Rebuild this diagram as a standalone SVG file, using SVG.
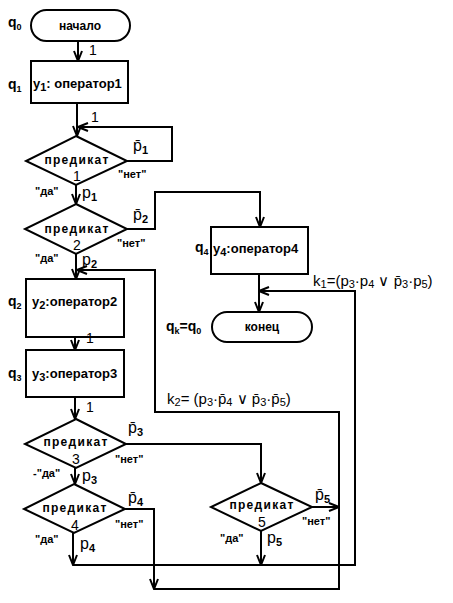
<svg xmlns="http://www.w3.org/2000/svg" width="453" height="603" viewBox="0 0 453 603">
<defs>
<marker id="ah" markerUnits="userSpaceOnUse" markerWidth="12" markerHeight="10" viewBox="0 0 12 10" refX="11" refY="5" orient="auto">
<path d="M1,1 L11,5 L1,9" fill="none" stroke="#000" stroke-width="2"/>
</marker>
<style>
.s{fill:#fff;stroke:#000;stroke-width:2}
.c{fill:none;stroke:#000;stroke-width:2}
.a{fill:none;stroke:#000;stroke-width:2;marker-end:url(#ah)}
text{font-family:"Liberation Sans",Arial,sans-serif;fill:#000}
.b{font-weight:bold}
.t{font-size:12px;font-weight:bold}
.pr{font-size:12px;font-weight:bold;letter-spacing:1.3px}
.op{font-size:13px;font-weight:bold}
.q{font-size:14px;font-weight:bold}
.d{font-size:14px}
.p{font-size:16px}
.y{font-size:11px;font-weight:bold}
.qs{font-size:9px;font-weight:bold}
.k{font-size:15px}
.ks{font-size:11px}
</style>
</defs>
<rect width="453" height="603" fill="#fff"/>
<g id="connectors">
<line class="a" x1="78" y1="41" x2="78" y2="61"/>
<line class="a" x1="77" y1="103" x2="77" y2="136"/>
<polyline class="a" points="127,161 172,161 172,127 78,127"/>
<line class="a" x1="76" y1="185" x2="76" y2="204"/>
<polyline class="a" points="127,229 155,229 155,192 260,192 260,227"/>
<line class="a" x1="76" y1="254" x2="76" y2="279"/>
<line class="a" x1="259" y1="274" x2="259" y2="312"/>
<line class="a" x1="75" y1="337" x2="75" y2="350"/>
<line class="a" x1="75" y1="397" x2="75" y2="419"/>
<line class="a" x1="75" y1="468" x2="75" y2="484"/>
<polyline class="a" points="126,444 261,444 261,483"/>
<line class="a" x1="73" y1="533" x2="73" y2="565"/>
<polyline class="a" points="73,565 355,565 355,291 259,291"/>
<line class="a" x1="261" y1="531" x2="261" y2="565"/>
<polyline class="a" points="125,509 154,509 154,589"/>
<polyline class="a" points="154,589 339,589 339,412 155,412 155,270 77,270"/>
<line class="a" x1="312" y1="507" x2="339" y2="507"/>
</g>
<g id="start">
<rect class="s" x="31" y="10" width="99" height="31" rx="15.5"/>
<text class="t" x="80" y="30" text-anchor="middle">начало</text>
<text class="q" x="8" y="27">q<tspan class="qs" dy="3">0</tspan></text>
</g>
<g id="op1">
<rect class="s" x="31" y="61" width="97" height="42"/>
<text class="op" x="33" y="88">y<tspan class="y" dy="3">1</tspan><tspan dy="-3">: оператор1</tspan></text>
<text class="q" x="8" y="89">q<tspan class="qs" dy="3">1</tspan></text>
</g>
<g id="pred1">
<polygon class="s" points="76,136 127,161 76,185 26,161"/>
<text class="pr" x="77" y="164" text-anchor="middle">предикат</text>
<text class="d" x="77" y="181" text-anchor="middle">1</text>
</g>
<g id="pred2">
<polygon class="s" points="76,204 127,229 76,254 25,229"/>
<text class="pr" x="77" y="233" text-anchor="middle">предикат</text>
<text class="d" x="77" y="250" text-anchor="middle">2</text>
</g>
<g id="op4">
<rect class="s" x="211" y="227" width="97" height="47"/>
<text class="op" x="213" y="253">y<tspan class="y" dy="3">4</tspan><tspan dy="-3">:оператор4</tspan></text>
<text class="q" x="195" y="252">q<tspan class="qs" dy="3">4</tspan></text>
</g>
<g id="end">
<rect class="s" x="212" y="312" width="100" height="30" rx="15"/>
<text class="t" x="262" y="331" text-anchor="middle">конец</text>
<text class="q" x="166" y="331">q<tspan class="qs" dy="3">k</tspan><tspan dy="-3">=q</tspan><tspan class="qs" dy="3">0</tspan></text>
</g>
<g id="op2">
<rect class="s" x="26" y="279" width="98" height="58"/>
<text class="op" x="32" y="306">y<tspan class="y" dy="3">2</tspan><tspan dy="-3">:оператор2</tspan></text>
<text class="q" x="8" y="306">q<tspan class="qs" dy="3">2</tspan></text>
</g>
<g id="op3">
<rect class="s" x="26" y="350" width="98" height="47"/>
<text class="op" x="32" y="378">y<tspan class="y" dy="3">3</tspan><tspan dy="-3">:оператор3</tspan></text>
<text class="q" x="8" y="378">q<tspan class="qs" dy="3">3</tspan></text>
</g>
<g id="pred3">
<polygon class="s" points="76,419 126,444 76,468 25,444"/>
<text class="pr" x="76" y="446" text-anchor="middle">предикат</text>
<text class="d" x="76" y="464" text-anchor="middle">3</text>
</g>
<g id="pred4">
<polygon class="s" points="74,484 125,509 74,533 24,509"/>
<text class="pr" x="75" y="512" text-anchor="middle">предикат</text>
<text class="d" x="75" y="530" text-anchor="middle">4</text>
</g>
<g id="pred5">
<polygon class="s" points="261,483 312,507 261,531 211,507"/>
<text class="pr" x="262" y="509" text-anchor="middle">предикат</text>
<text class="d" x="262" y="527" text-anchor="middle">5</text>
</g>
<g id="labels">
<text class="d" x="89" y="55">1</text>
<text class="d" x="91" y="122">1</text>
<text class="d" x="86" y="343">1</text>
<text class="d" x="86" y="412">1</text>
<text class="y" x="118" y="178">"нет"</text>
<text class="y" x="35" y="195">"да"</text>
<text class="y" x="117" y="247">"нет"</text>
<text class="y" x="35" y="262">"да"</text>
<text class="y" x="115" y="463">"нет"</text>
<text class="y" x="33" y="477">-"да"</text>
<text class="y" x="115" y="528">"нет"</text>
<text class="y" x="35" y="543">"да"</text>
<text class="y" x="302" y="525">"нет"</text>
<text class="y" x="220" y="542">"да"</text>
<text class="p" x="133" y="151">p̄<tspan class="y" dy="3">1</tspan></text>
<text class="p" x="133" y="220">p̄<tspan class="y" dy="3">2</tspan></text>
<text class="p" x="128" y="433">p̄<tspan class="y" dy="3">3</tspan></text>
<text class="p" x="128" y="503">p̄<tspan class="y" dy="3">4</tspan></text>
<text class="p" x="315" y="500">p̄<tspan class="y" dy="3">5</tspan></text>
<text class="p" x="82" y="198">p<tspan class="y" dy="3">1</tspan></text>
<text class="p" x="82" y="265">p<tspan class="y" dy="3">2</tspan></text>
<text class="p" x="82" y="481">p<tspan class="y" dy="3">3</tspan></text>
<text class="p" x="80" y="549">p<tspan class="y" dy="3">4</tspan></text>
<text class="p" x="267" y="543">p<tspan class="y" dy="3">5</tspan></text>
<text class="k" x="313" y="286">k<tspan class="ks" dy="2">1</tspan><tspan dy="-2">=(p</tspan><tspan class="ks" dy="2">3</tspan><tspan dy="-2">·p</tspan><tspan class="ks" dy="2">4</tspan><tspan dy="-2"> ∨ p̄</tspan><tspan class="ks" dy="2">3</tspan><tspan dy="-2">·p</tspan><tspan class="ks" dy="2">5</tspan><tspan dy="-2">)</tspan></text>
<text class="k" x="167" y="404">k<tspan class="ks" dy="2">2</tspan><tspan dy="-2">= (p</tspan><tspan class="ks" dy="2">3</tspan><tspan dy="-2">·p̄</tspan><tspan class="ks" dy="2">4</tspan><tspan dy="-2"> ∨ p̄</tspan><tspan class="ks" dy="2">3</tspan><tspan dy="-2">·p̄</tspan><tspan class="ks" dy="2">5</tspan><tspan dy="-2">)</tspan></text>
</g>
</svg>
